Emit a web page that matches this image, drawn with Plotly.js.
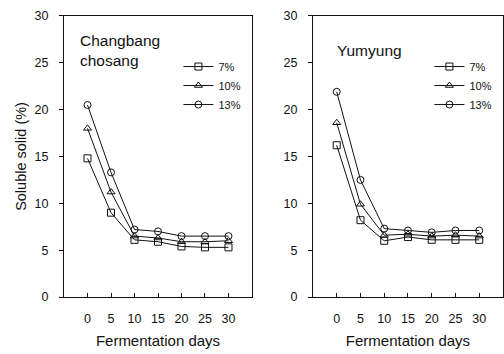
<!DOCTYPE html>
<html><head><meta charset="utf-8">
<script src="https://cdn.plot.ly/plotly-3.0.1.min.js"></script>
<style>html,body{margin:0;padding:0;background:#fff}#chart{width:504px;height:354px}</style>
</head><body><div id="chart"></div>
<script>
const days = [0, 5, 10, 15, 20, 25, 30];
const seriesNames = ['7%', '10%', '13%'];
const changbang7 = [14.8, 9.0, 6.1, 5.9, 5.4, 5.3, 5.3];
const changbang10 = [18.0, 11.2, 6.5, 6.3, 5.9, 5.9, 6.0];
const changbang13 = [20.5, 13.3, 7.2, 7.0, 6.5, 6.5, 6.5];
const yumyung7 = [16.2, 8.2, 6.0, 6.4, 6.1, 6.1, 6.1];
const yumyung10 = [18.6, 9.9, 6.6, 6.7, 6.5, 6.6, 6.5];
const yumyung13 = [21.9, 12.5, 7.3, 7.1, 6.9, 7.1, 7.1];
const yTicks = [0, 5, 10, 15, 20, 25, 30];

const symbols = ['square-open', 'triangle-up-open', 'circle-open'];
function mk(x, y, i, xa, ya, leg) {
  return {x: x, y: y, name: seriesNames[i], type: 'scatter', mode: 'lines+markers',
    xaxis: xa, yaxis: ya, legend: leg,
    line: {color: '#111', width: 1},
    marker: {symbol: symbols[i], size: 7, color: '#111', line: {color: '#111', width: 1}}};
}
const data = [
  mk(days, changbang7, 0, 'x', 'y', 'legend'),
  mk(days, changbang10, 1, 'x', 'y', 'legend'),
  mk(days, changbang13, 2, 'x', 'y', 'legend'),
  mk(days, yumyung7, 0, 'x2', 'y2', 'legend2'),
  mk(days, yumyung10, 1, 'x2', 'y2', 'legend2'),
  mk(days, yumyung13, 2, 'x2', 'y2', 'legend2')
];
const font = {family: 'Liberation Sans, Arial, sans-serif', size: 12, color: '#111'};
function xax(dom) {
  return {domain: dom, range: [-5, 35], tickvals: days, ticks: 'inside', ticklen: 4,
    tickcolor: '#111', showline: true, linecolor: '#111', linewidth: 1, mirror: true,
    showgrid: false, zeroline: false, ticklabelstandoff: 10, tickfont: {size: 12.5},
    title: {text: 'Fermentation days', font: {size: 15}, standoff: 10}};
}
function yax(anchor) {
  return {domain: [0.161, 0.955], range: [0, 30], tickvals: yTicks, ticks: 'outside', ticklen: 4,
    tickcolor: '#111', showline: true, linecolor: '#111', linewidth: 1, mirror: true,
    showgrid: false, zeroline: false, anchor: anchor, ticklabelstandoff: 8, tickfont: {size: 12.5}};
}
const ya1 = yax('x');
ya1.title = {text: 'Soluble solid (%)', font: {size: 14.5}, standoff: 4};
const ya2 = yax('x2');
const legStyle = {font: {size: 11}, bgcolor: 'rgba(0,0,0,0)', tracegroupgap: 0,
  itemwidth: 30, xanchor: 'left', yanchor: 'top'};
const layout = {
  width: 504, height: 354, margin: {l: 0, r: 0, t: 0, b: 0},
  paper_bgcolor: '#fff', plot_bgcolor: '#fff', font: font, showlegend: true,
  xaxis: xax([0.127, 0.5]), yaxis: ya1,
  xaxis2: Object.assign(xax([0.621, 0.998]), {anchor: 'y2'}), yaxis2: ya2,
  legend: Object.assign({x: 0.354, y: 0.853}, legStyle),
  legend2: Object.assign({x: 0.852, y: 0.853}, legStyle),
  annotations: [
    {text: 'Changbang<br>chosang', xref: 'paper', yref: 'paper', x: 0.155, y: 0.915,
     xanchor: 'left', yanchor: 'top', showarrow: false, align: 'left', font: {size: 15.5}},
    {text: 'Yumyung', xref: 'paper', yref: 'paper', x: 0.664, y: 0.888,
     xanchor: 'left', yanchor: 'top', showarrow: false, align: 'left', font: {size: 15.5}}
  ]
};
Plotly.newPlot('chart', data, layout, {displayModeBar: false, staticPlot: true});
</script></body></html>
